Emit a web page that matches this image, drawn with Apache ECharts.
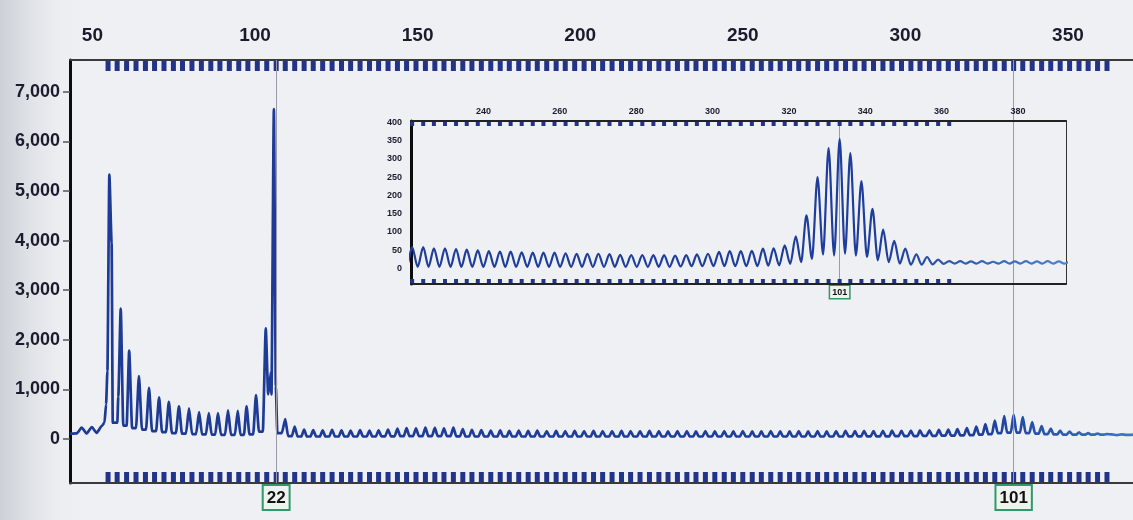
<!DOCTYPE html>
<html>
<head>
<meta charset="utf-8">
<script src="https://cdn.jsdelivr.net/npm/echarts@6/dist/echarts.min.js"></script>
<style>
  html, body { margin: 0; padding: 0; }
  body { background: linear-gradient(to right, #cdd0d6 0px, #dfe2e7 30px, #eceef2 60px, #eef0f4 90px, #eef0f4 100%); }
  #chart { width: 1133px; height: 520px; }
</style>
</head>
<body>
<div id="chart"></div>
<script>
// ---------------- DATA ----------------
// size bins (bp), one per repeat count, starting at repeat 4
const firstBinRepeat = 4;
const binBp = [
  54.8, 57.6, 60.5, 63.4, 66.3, 69.1, 72.0, 74.9, 77.7, 80.6,
  83.5, 86.4, 89.2, 92.1, 95.0, 97.8, 100.7, 103.6, 106.5, 109.3,
  112.2, 115.1, 117.9, 120.8, 123.7, 126.6, 129.4, 132.3, 135.2, 138.0,
  140.9, 143.8, 146.6, 149.5, 152.4, 155.3, 158.1, 161.0, 163.9, 166.7,
  169.6, 172.5, 175.4, 178.2, 181.1, 184.0, 186.8, 189.7, 192.6, 195.4,
  198.3, 201.2, 204.1, 206.9, 209.8, 212.7, 215.5, 218.4, 221.3, 224.2,
  227.0, 229.9, 232.8, 235.6, 238.5, 241.4, 244.3, 247.1, 250.0, 252.9,
  255.7, 258.6, 261.5, 264.4, 267.2, 270.1, 273.0, 275.8, 278.7, 281.6,
  284.5, 287.3, 290.2, 293.1, 295.9, 298.8, 301.7, 304.5, 307.4, 310.3,
  313.2, 316.0, 318.9, 321.8, 324.6, 327.5, 330.4, 333.3, 336.1, 339.0,
  341.9, 344.7, 347.6, 350.5, 353.4, 356.2, 359.1, 362.0
];
const markedRepeats = [22, 101];
const insetMarkedRepeats = [101];

// main trace
const mainLeadIn = [[43.1, 110], [45.2, 115], [46.7, 230], [48.2, 110], [49.8, 240],
  [51.3, 125], [52.85, 260], [53.7, 330], [54.2, 700], [54.6, 1370]];
const mainEarlyPeakBp = [55.2, 58.7, 61.3, 64.3, 67.4, 70.5, 73.5, 76.6, 79.7,
  82.8, 85.8, 88.6, 91.7, 94.7, 97.4, 100.3, 103.3, 105.8];
const mainEarlyPeakHeight = [5330, 2630, 1780, 1270, 1030, 840, 750, 660, 620,
  540, 520, 520, 580, 570, 660, 885, 2230, 6650];
const mainEarlyTrough = [330, 270, 220, 190, 160, 140, 120, 110, 100,
  95, 90, 85, 85, 85, 95, 150, 900, 120];
const mainShoulders = [[55.9, 3950], [57.95, 850], [104.9, 1350], [106.4, 1070]];
// peaks at bins for repeats 23..111
const mainLatePeak = [
  400, 250, 190, 180, 175, 185, 175, 170, 180, 170,
  175, 190, 210, 220, 215, 230, 225, 215, 230, 200,
  185, 180, 170, 175, 165, 170, 165, 170, 160, 165,
  160, 165, 160, 165, 160, 160, 165, 160, 160, 165,
  160, 155, 160, 160, 155, 160, 155, 160, 155, 160,
  155, 155, 160, 155, 155, 160, 155, 160, 155, 160,
  165, 160, 165, 160, 165, 170, 165, 170, 175, 175,
  185, 190, 200, 220, 250, 300, 370, 460, 490, 440,
  340, 260, 210, 170, 150, 135, 120, 110, 100
];
const mainLateTrough = [
  60, 50, 50, 50, 50, 50, 50, 50, 50, 50,
  55, 55, 60, 60, 60, 60, 60, 60, 55, 50,
  50, 50, 50, 50, 50, 50, 50, 50, 50, 50,
  50, 50, 50, 50, 50, 50, 50, 50, 50, 50,
  50, 50, 50, 50, 50, 50, 50, 50, 50, 50,
  50, 50, 50, 50, 50, 50, 50, 50, 50, 50,
  55, 55, 55, 55, 55, 60, 60, 60, 65, 65,
  70, 70, 75, 80, 90, 100, 120, 130, 130, 120,
  110, 100, 95, 90, 90, 90, 90, 90
];
const mainTail = [[363.5, 92], [365.0, 80], [366.5, 92], [368.0, 82], [370.0, 90]];

// inset trace: peaks at bins for repeats 61..111
const insetFirstBin = 57;
const insetPeak = [
  58, 58, 58, 55, 55, 53, 51, 49, 47, 46,
  46, 44, 43, 43, 43, 41, 40, 40, 40, 39,
  37, 36, 36, 36, 36, 35, 36, 38, 40, 45,
  47, 47, 48, 54, 55, 63, 88, 145, 250, 330,
  355, 316, 239, 163, 106, 75, 54, 38, 31, 24, 20
];
const insetTrough = [
  4, 4, 4, 4, 4, 4, 4, 4, 4, 4,
  4, 4, 4, 4, 4, 4, 4, 4, 4, 4,
  4, 4, 4, 4, 4, 5, 6, 6, 6, 6,
  6, 6, 6, 7, 8, 12, 17, 26, 38, 35,
  40, 35, 31, 22, 17, 13, 10, 10, 11, 12, 13
];
const insetTailBp = [364.9, 367.7, 370.6, 373.5, 376.4, 379.2, 382.1, 385.0, 387.8, 390.7, 393.6];
const insetTailPeak = [20, 19, 20, 18, 20, 19, 20, 19, 20, 19, 20];
const insetTailTrough = [13, 13, 13, 13, 13, 13, 13, 13, 13, 13, 13];

// axis tick labels
const mainXTicks = [50, 100, 150, 200, 250, 300, 350];
const mainYTicks = [0, 1000, 2000, 3000, 4000, 5000, 6000, 7000];
const insetXTicks = [240, 260, 280, 300, 320, 340, 360, 380];
const insetYTicks = [0, 50, 100, 150, 200, 250, 300, 350, 400];

// axis ranges
const mainX = [43.1, 370.0];
const mainY = [-887, 7641];
const insetX = [221.0, 392.6];
const insetY = [-43, 404];

// ---------------- BUILD ----------------
// each gap between two peaks gets a flat trough (two points) so the peaks stay narrow
function pushGap(arr, a, b, v) {
  arr.push([a + (b - a) * 0.3, v]);
  arr.push([a + (b - a) * 0.7, v]);
}
const mainPts = [];
mainLeadIn.forEach(p => mainPts.push(p));
mainEarlyPeakBp.forEach((b, i) => {
  mainPts.push([b, mainEarlyPeakHeight[i]]);
  const next = i < mainEarlyPeakBp.length - 1 ? mainEarlyPeakBp[i + 1] : binBp[19];
  pushGap(mainPts, b, next, mainEarlyTrough[i]);
});
mainShoulders.forEach(p => mainPts.push(p));
mainLatePeak.forEach((h, j) => {
  const k = 19 + j;
  mainPts.push([binBp[k], h]);
  if (k + 1 < binBp.length) pushGap(mainPts, binBp[k], binBp[k + 1], mainLateTrough[j]);
});
mainTail.forEach(p => mainPts.push(p));
mainPts.sort((a, b) => a[0] - b[0]);

const insetPts = [];
insetPeak.forEach((h, j) => {
  const k = insetFirstBin + j;
  const next = k + 1 < binBp.length ? binBp[k + 1] : insetTailBp[0];
  insetPts.push([binBp[k], h]);
  insetPts.push([(binBp[k] + next) / 2, insetTrough[j]]);
});
insetTailBp.forEach((b, i) => {
  insetPts.push([b, insetTailPeak[i]]);
  if (i + 1 < insetTailBp.length) insetPts.push([(b + insetTailBp[i + 1]) / 2, insetTailTrough[i]]);
});

const fmt = v => v.toLocaleString('en-US');
const labelColor = '#1b1b2e';
const binColor = '#22338a';
const boxStyle = {
  show: true, position: 'start', formatter: '{b}', color: '#111', fontWeight: 'bold',
  fontFamily: 'Liberation Sans, Arial, sans-serif',
  backgroundColor: '#eef3ee', borderColor: '#2f9a66'
};

function binRenderer(w, h, yMin, yMax, gap) {
  return function (params, api) {
    const x = api.value(0);
    const t = api.coord([x, yMax]);
    const b = api.coord([x, yMin]);
    return {
      type: 'group',
      children: [
        { type: 'rect', shape: { x: t[0] - w / 2, y: t[1] + gap, width: w, height: h }, style: { fill: binColor } },
        { type: 'rect', shape: { x: b[0] - w / 2, y: b[1] - gap - h, width: w, height: h }, style: { fill: binColor } }
      ]
    };
  };
}

const chart = echarts.init(document.getElementById('chart'), null, { renderer: 'canvas' });
const font = 'Liberation Sans, Arial, sans-serif';

chart.setOption({
  animation: false,
  backgroundColor: 'transparent',
  grid: [
    { left: 70, right: 0, top: 60, bottom: 37, outerBoundsMode: 'none' },
    { left: 411, right: 67, top: 121, bottom: 236, outerBoundsMode: 'none' }
  ],
  graphic: {
    elements: [{
      type: 'rect', z: 5, silent: true,
      shape: { x: 385, y: 99, width: 688, height: 207 },
      style: { fill: '#eef0f4' }
    }]
  },
  xAxis: [
    { gridIndex: 0, type: 'value', position: 'top', min: mainX[0], max: mainX[1],
      axisLine: { show: true, onZero: false, lineStyle: { color: '#3a3a3a', width: 2 } },
      axisTick: { show: false }, splitLine: { show: false },
      axisLabel: { customValues: mainXTicks, fontSize: 19, fontWeight: 'bold', fontFamily: font, color: labelColor, margin: 15 } },
    { gridIndex: 0, type: 'value', position: 'bottom', min: mainX[0], max: mainX[1],
      axisLine: { show: true, onZero: false, lineStyle: { color: '#3a3a3a', width: 2 } },
      axisTick: { show: false }, splitLine: { show: false }, axisLabel: { show: false } },
    { gridIndex: 1, type: 'value', position: 'top', min: insetX[0], max: insetX[1], z: 10,
      axisLine: { show: true, onZero: false, lineStyle: { color: '#222', width: 2 } },
      axisTick: { show: false }, splitLine: { show: false },
      axisLabel: { customValues: insetXTicks, fontSize: 9, fontWeight: 'bold', fontFamily: font, color: labelColor, margin: 5 } },
    { gridIndex: 1, type: 'value', position: 'bottom', min: insetX[0], max: insetX[1], z: 10,
      axisLine: { show: true, onZero: false, lineStyle: { color: '#222', width: 2 } },
      axisTick: { show: false }, splitLine: { show: false }, axisLabel: { show: false } }
  ],
  yAxis: [
    { gridIndex: 0, type: 'value', min: mainY[0], max: mainY[1],
      axisLine: { show: true, onZero: false, lineStyle: { color: '#0c0c0c', width: 3 } },
      axisTick: { show: true, customValues: mainYTicks, length: 7, lineStyle: { color: '#555', width: 1.5 } },
      splitLine: { show: false },
      axisLabel: { customValues: mainYTicks, formatter: fmt, fontSize: 18, fontWeight: 'bold', fontFamily: font, color: labelColor, margin: 10 } },
    { gridIndex: 1, type: 'value', min: insetY[0], max: insetY[1], z: 10,
      axisLine: { show: true, onZero: false, lineStyle: { color: '#0c0c0c', width: 3 } },
      axisTick: { show: false }, splitLine: { show: false },
      axisLabel: { customValues: insetYTicks, fontSize: 9, fontWeight: 'bold', fontFamily: font, color: labelColor, margin: 9 } },
    { gridIndex: 1, type: 'value', position: 'right', min: insetY[0], max: insetY[1], z: 10,
      axisLine: { show: true, onZero: false, lineStyle: { color: '#333', width: 1 } },
      axisTick: { show: false }, splitLine: { show: false }, axisLabel: { show: false } }
  ],
  series: [
    {
      type: 'line', xAxisIndex: 0, yAxisIndex: 0, data: mainPts, showSymbol: false,
      smooth: 0.2, smoothMonotone: 'x', z: 2,
      lineStyle: { width: 2.7, color: { type: 'linear', x: 0, y: 0, x2: 1, y2: 0,
        colorStops: [{ offset: 0, color: '#1d3a94' }, { offset: 0.86, color: '#1f3f9c' }, { offset: 1, color: '#3b78c6' }] } },
      markLine: {
        silent: true, symbol: ['none', 'none'],
        lineStyle: { color: '#9a9aaa', width: 1, type: 'solid' },
        label: Object.assign({}, boxStyle, { fontSize: 17, padding: [4, 3, 2, 3], borderWidth: 2, distance: 3 }),
        data: markedRepeats.map(r => [
          { name: String(r), coord: [binBp[r - firstBinRepeat], mainY[0]] },
          { coord: [binBp[r - firstBinRepeat], mainY[1]] }
        ])
      }
    },
    {
      type: 'custom', xAxisIndex: 0, yAxisIndex: 0, z: 3,
      data: binBp.map(b => [b, 0]),
      renderItem: binRenderer(5, 10, mainY[0], mainY[1], 1)
    },
    {
      type: 'line', xAxisIndex: 2, yAxisIndex: 1, data: insetPts, showSymbol: false,
      smooth: 0.3, smoothMonotone: 'x', z: 10,
      lineStyle: { width: 2.2, color: { type: 'linear', x: 0, y: 0, x2: 1, y2: 0,
        colorStops: [{ offset: 0, color: '#1f3e9a' }, { offset: 0.72, color: '#1f3e9a' }, { offset: 1, color: '#4a86d0' }] } },
      markLine: {
        silent: true, symbol: ['none', 'none'],
        lineStyle: { color: '#9a9aaa', width: 1, type: 'solid' },
        label: Object.assign({}, boxStyle, { fontSize: 9, padding: [2, 2, 1, 2], borderWidth: 1.5, distance: 2 }),
        data: insetMarkedRepeats.map(r => [
          { name: String(r), coord: [binBp[r - firstBinRepeat], insetY[0]] },
          { coord: [binBp[r - firstBinRepeat], insetY[1]] }
        ])
      }
    },
    {
      type: 'custom', xAxisIndex: 2, yAxisIndex: 1, z: 11,
      data: binBp.filter(b => b >= insetX[0] && b <= insetX[1]).map(b => [b, 0]),
      renderItem: binRenderer(4, 4, insetY[0], insetY[1], 1)
    }
  ]
});
</script>
</body>
</html>
